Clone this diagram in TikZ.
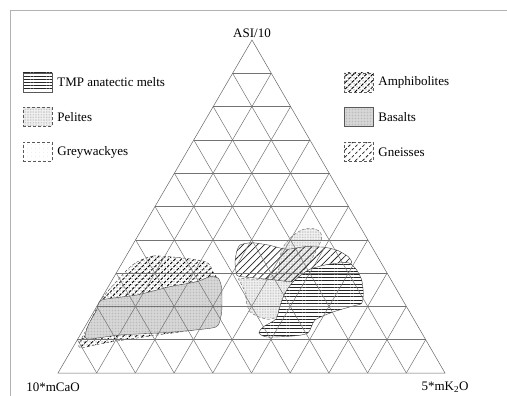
\documentclass[tikz,border=0pt]{standalone}
\usepackage{fontspec}
\setmainfont{Liberation Serif}
\usetikzlibrary{patterns.meta, positioning, calc}

\begin{document}
\begin{tikzpicture}[x=1pt, y=-1pt,
    font=\fontsize{13}{15}\selectfont,
    grid/.style={black!55, line width=0.5pt}, % grid lines
    legbox/.style={draw=gray!70!black, minimum width=29pt, minimum height=19pt, inner sep=0pt},
    legtext/.style={anchor=west, inner sep=0pt},
    tmp/.style={preaction={fill=white}, pattern={Lines[angle=0, distance=3.2pt, line width=0.6pt]}, pattern color=black!85},
    pelite/.style={preaction={fill=gray!10}, pattern={Dots[distance=1.6pt, radius=0.35pt]}, pattern color=gray!75},
    greyw/.style={pattern={Dots[distance=4pt, radius=0.3pt]}, pattern color=gray!40},
    amphi/.style={preaction={pattern={Dots[distance=3pt, radius=0.5pt]}, pattern color=black!75},
        pattern={Lines[angle=45, distance=4.5pt, line width=0.85pt]}, pattern color=black},
    basalt/.style={preaction={fill=gray!28}, pattern={Dots[distance=1.5pt, radius=0.35pt]}, pattern color=gray!65},
    gneiss/.style={pattern={Lines[angle=45, distance=5pt, line width=0.75pt]}, pattern color=black!85}
]
    \useasboundingbox (0,0) rectangle (507,396);
    % frame
    \draw[gray!60, line width=0.5pt] (10,396) -- (10,10) -- (507,10);

    % corners of the triangle
    \coordinate (A) at (252,40);
    \coordinate (C) at (58,373);
    \coordinate (K) at (445,373);

    % 1. fields, left group
    \draw[black!75, densely dashed, amphi] plot[smooth cycle, tension=0.45] coordinates {
        (137,262) (153,256) (180,257.7) (203,261) (210,265) (213,272) (218,280)
        (220,300) (215,325) (150,336) (117,341) (100,344) (81,348) (79,344)
        (84,334) (92,318) (101,300) (115,283) (128,269)};
    \draw[black!70, basalt] plot[smooth cycle, tension=0.4] coordinates {
        (101.7,300) (136.7,295) (170,286.7) (196.7,281.7) (210,276.7) (218.3,278.3)
        (221.7,288.3) (221.7,311.7) (218.3,325) (210,328.3) (170,332.3) (120,335)
        (90,339) (85,336.7) (88.3,325) (96.7,310)};

    % 2. fields, right group
    \draw[black!60, densely dashed, pelite] plot[smooth cycle, tension=0.45] coordinates {
        (291.7,236.7) (301.7,230) (311.7,228.3) (320,231.7) (321.7,238.3) (318.3,246.7)
        (310,262) (300,275) (285,293.3) (280,306.7) (276.7,316.7) (268.3,319.3)
        (258.3,316.7) (250,311.7) (246.7,303.3) (245,291.7) (240,281.7) (240,278.3)
        (265,279.3) (278.3,270) (280,256.7) (283.3,246.7)};
    \draw[black!75, gneiss] plot[smooth cycle, tension=0.35] coordinates {
        (236.7,251.7) (240,245) (251.7,242.7) (268.3,245) (286.7,249.3) (305,246.7)
        (325,247.3) (338.3,250.7) (348.3,256.7) (351.7,261.7) (350,264)
        (335,265) (318.3,268.3) (305,275) (293.3,281.7) (275,280) (258.3,278.3)
        (241.7,276.7) (236.7,275) (235,262)};
    \draw[black!75, tmp] plot[smooth cycle, tension=0.4] coordinates {
        (293.3,281.7) (308.3,270) (325,265) (341.7,262.7) (350,263.3) (356.7,270)
        (361.7,280) (363.3,293.3) (361.7,303.3) (353,306) (333,312) (315,320)
        (308,333) (293,336) (267,337) (259,333) (263,327) (276,319) (280,306) (285,293)};

    % 3. ternary grid, 10 steps
    \foreach \i in {1,...,9} {
        \draw[grid] ($(C)!\i/10!(A)$) -- ($(K)!\i/10!(A)$);
        \draw[grid] ($(C)!\i/10!(K)$) -- ($(A)!\i/10!(K)$);
        \draw[grid] ($(K)!\i/10!(C)$) -- ($(A)!\i/10!(C)$);
    }
    \draw[black!60, line width=0.5pt] (A) -- (C) -- (K) -- cycle;

    % corner labels
    \node[above=1pt of A, inner sep=1pt] (lA) {ASI/10};
    \node[inner sep=0pt] (lC) at (53,387) {10*mCaO};
    \node[inner sep=0pt] (lK) at (445,387) {5*mK\textsubscript{2}O};

    % 4. legend
    \node[legbox, tmp] (bTmp) at (37.5,82.5) {};
    \node[legbox, pelite, densely dashed] (bPel) at (37.5,117) {};
    \node[legbox, greyw, densely dashed] (bGre) at (37.5,152) {};
    \node[legbox, amphi, densely dashed] (bAmp) at (358.5,82.5) {};
    \node[legbox, basalt] (bBas) at (358.5,117) {};
    \node[legbox, gneiss, densely dashed] (bGne) at (358.5,152) {};
    \node[legtext, right=5pt of bTmp] (tTmp) {TMP anatectic melts};
    \node[legtext, right=5pt of bPel] (tPel) {Pelites};
    \node[legtext, right=5pt of bGre] (tGre) {Greywackyes};
    \node[legtext, right=5pt of bAmp] (tAmp) {Amphibolites};
    \node[legtext, right=5pt of bBas] (tBas) {Basalts};
    \node[legtext, right=5pt of bGne] (tGne) {Gneisses};
\end{tikzpicture}
\end{document}
